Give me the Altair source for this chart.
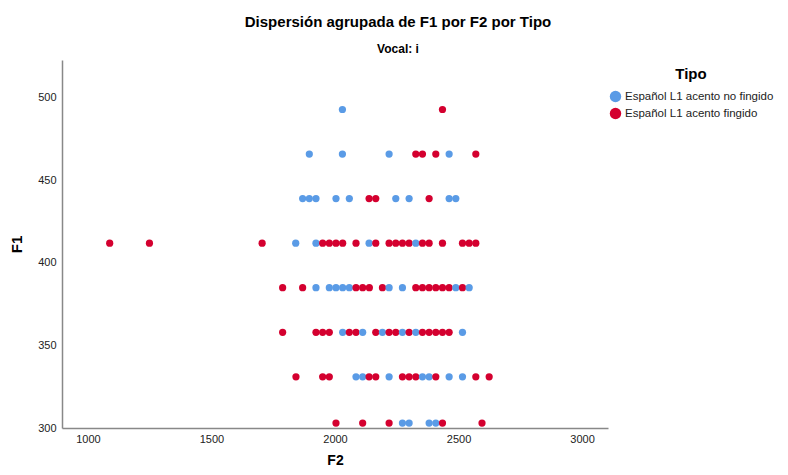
import altair as alt
import pandas as pd

# F1 levels (rows) and F2 values per level, per group
f1_levels = [493, 466, 439, 412, 385, 358, 331, 303]

blue_f2 = [
    [2030],
    [1896, 2030, 2219, 2462],
    [1869, 1896, 1923, 2004, 2058, 2246, 2300, 2462, 2489],
    [1841, 1923, 2138, 2327],
    [1923, 1977, 2004, 2031, 2058, 2219, 2273, 2489, 2543],
    [2031, 2112, 2192, 2273, 2327, 2516],
    [2085, 2112, 2219, 2354, 2381, 2462, 2516],
    [2273, 2300, 2381, 2408],
]

red_f2 = [
    [2435],
    [2327, 2354, 2408, 2570],
    [2138, 2165, 2381],
    [1088, 1249, 1705, 1950, 1977, 2004, 2031, 2085, 2165, 2219, 2246, 2273,
     2300, 2354, 2381, 2435, 2516, 2543, 2570],
    [1788, 1869, 2085, 2112, 2139, 2192, 2327, 2354, 2381, 2408, 2435, 2462, 2516],
    [1788, 1923, 1950, 1977, 2058, 2085, 2165, 2219, 2246, 2300, 2354, 2381,
     2408, 2435, 2462],
    [1842, 1950, 1977, 2138, 2165, 2273, 2300, 2327, 2408, 2570, 2624],
    [2004, 2112, 2219, 2435, 2595],
]

groups = ["Español L1 acento no fingido", "Español L1 acento fingido"]
colors = ["#5A9BE6", "#D4002F"]
x_ticks = [1000, 1500, 2000, 2500, 3000]
y_ticks = [300, 350, 400, 450, 500]

rows = []
for g, series in zip(groups, [blue_f2, red_f2]):
    for lvl, vals in zip(f1_levels, series):
        for v in vals:
            rows.append({"F2": v, "F1": lvl, "Tipo": g})
df = pd.DataFrame(rows)

FONT = "Liberation Sans"

chart = alt.Chart(df).mark_circle(size=52, opacity=1).encode(
    x=alt.X("F2:Q",
            scale=alt.Scale(domain=[895, 3105], nice=False, zero=False),
            axis=alt.Axis(values=x_ticks, title="F2", grid=False, ticks=False,
                          labelPadding=5, titlePadding=9, format="d",
                          titleFontSize=14)),
    y=alt.Y("F1:Q",
            scale=alt.Scale(domain=[300, 523], nice=False, zero=False),
            axis=alt.Axis(values=y_ticks, title="F1", grid=False, ticks=False,
                          labelPadding=6, titlePadding=13, format="d")),
    color=alt.Color("Tipo:N",
                    scale=alt.Scale(domain=groups, range=colors),
                    legend=alt.Legend(title="Tipo", orient="none",
                                      legendX=547, legendY=7,
                                      titleAnchor="middle",
                                      titleFontSize=15, titleFont=FONT,
                                      titleFontWeight="bold", titleColor="#000",
                                      labelFont=FONT, labelFontSize=11.5,
                                      labelColor="#222", symbolSize=130,
                                      symbolType="circle", rowPadding=4,
                                      labelOffset=3,
                                      symbolOpacity=1, titlePadding=8)),
    order=alt.Order("F2:Q"),
).properties(
    width=546,
    height=368,
    title=alt.TitleParams(
        text="Dispersión agrupada de F1 por F2 por Tipo",
        subtitle="Vocal: i",
        font=FONT, fontSize=15, fontWeight="bold", color="#000",
        subtitleFont=FONT, subtitleFontSize=12, subtitleFontWeight="bold",
        subtitleColor="#000",
        anchor="middle", dx=63, offset=5, subtitlePadding=14,
    ),
    autosize=alt.AutoSizeParams(type="none"),
    padding={"left": 54, "top": 52, "right": 172, "bottom": 39},
).configure_view(stroke=None).configure_axis(
    domainColor="#888", domainWidth=1.5,
    labelFont=FONT, labelFontSize=11, labelColor="#222",
    titleFont=FONT, titleFontSize=15, titleFontWeight="bold", titleColor="#000",
)

chart.save("out.html", embed_options={"renderer": "svg", "actions": False})
